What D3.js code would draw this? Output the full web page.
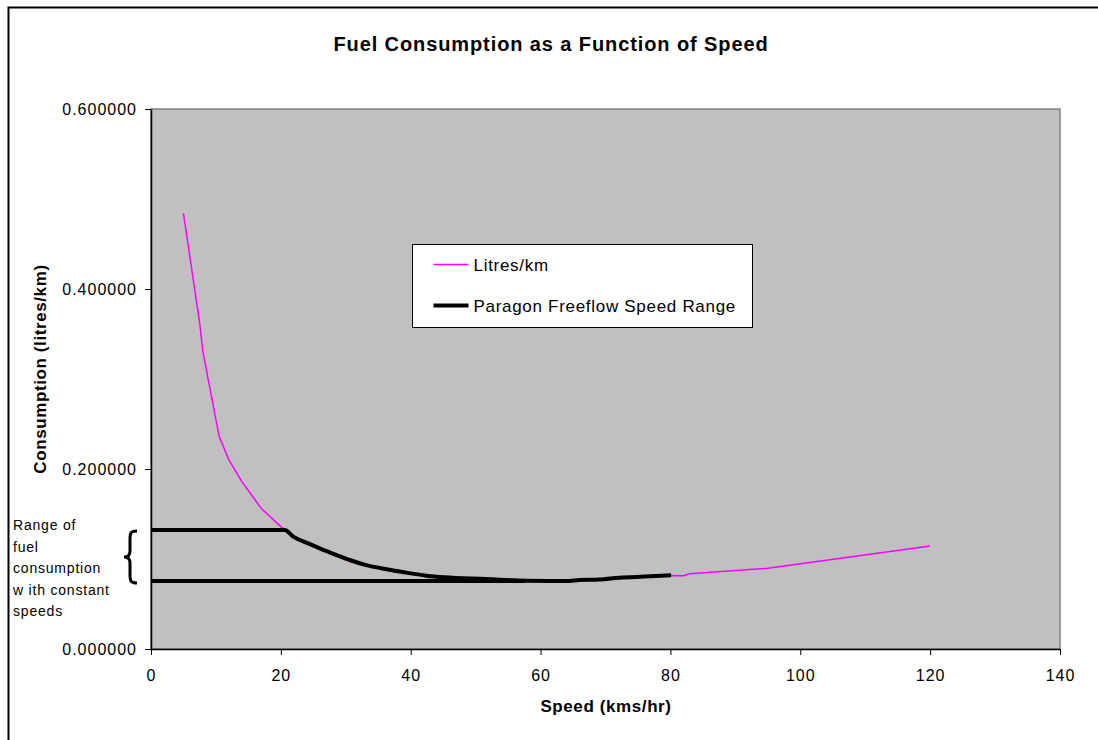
<!DOCTYPE html>
<html lang="en">
  <head>
    <meta charset="UTF-8" />
    <title>Fuel Consumption as a Function of Speed</title>
    <style>
      body {
        margin: 0;
        background: #fff;
        font-family: Arial, "Liberation Sans", sans-serif;
        color: #000;
      }
      .tick text {
        font-size: 16px;
        letter-spacing: 1px;
      }
      .axis-title {
        font-size: 17px;
        font-weight: bold;
        letter-spacing: 0.6px;
      }
      .note text {
        font-size: 14px;
        letter-spacing: 0.8px;
      }
    </style>
  </head>
  <body>
    <svg width="1098" height="740"></svg>
  </body>
  <script src="https://cdn.jsdelivr.net/npm/d3@7"></script>
  <script>
    // Litres/km curve
    let speeds = [5, 7.5, 8, 10.5, 12, 14, 17, 20, 22, 26, 30, 36, 42, 45, 50, 55, 60, 64, 66, 72, 80, 82, 83, 95, 120];
    let litres = [0.484, 0.362, 0.33, 0.236, 0.21, 0.186, 0.156, 0.136, 0.1248, 0.1119, 0.0989, 0.0886, 0.0815, 0.0796, 0.0785, 0.0768, 0.0757, 0.0756, 0.0767, 0.0793, 0.0817, 0.0815, 0.0837, 0.0896, 0.1144];

    // Paragon freeflow speed range (thick black)
    let paragonSpeeds = [0, 20.6, 21.9, 24, 26, 28, 30.6, 33, 36.3, 39, 42.4, 45.2, 51.6, 57.8, 63.9, 66, 69, 72.2, 76, 80.1];
    let paragonValues = [0.1322, 0.1322, 0.1248, 0.118, 0.1119, 0.106, 0.0989, 0.0935, 0.0886, 0.0852, 0.0815, 0.0796, 0.0778, 0.0759, 0.0756, 0.0767, 0.0772, 0.0793, 0.0805, 0.0819];

    // lower bound of the range
    let floorSpeeds = [0, 57.5];
    let floorValues = [0.0756, 0.0756];

    let xTicks = [0, 20, 40, 60, 80, 100, 120, 140];
    let yTicks = [0, 0.2, 0.4, 0.6];

    let svg = d3.select("svg");

    // outer chart frame
    svg.append("rect")
      .attr("x", 8.5).attr("y", 7.5)
      .attr("width", 1100).attr("height", 760)
      .attr("fill", "#fff")
      .attr("stroke", "#000")
      .attr("stroke-width", 2);

    let x = d3.scaleLinear().domain([0, 140]).range([151, 1060]);
    let y = d3.scaleLinear().domain([0, 0.6]).range([649, 109]);

    // plot area
    svg.append("rect")
      .attr("x", x(0)).attr("y", y(0.6))
      .attr("width", x(140) - x(0)).attr("height", y(0) - y(0.6))
      .attr("fill", "#c0c0c0")
      .attr("stroke", "#808080")
      .attr("stroke-width", 1.5);

    svg.append("text")
      .attr("x", 551).attr("y", 51)
      .attr("text-anchor", "middle")
      .attr("font-size", 20)
      .attr("font-weight", "bold")
      .attr("letter-spacing", 0.9)
      .text("Fuel Consumption as a Function of Speed");

    svg.append("g")
      .attr("transform", `translate(0,${y(0)})`)
      .call(d3.axisBottom(x).tickValues(xTicks).tickSize(6).tickPadding(15).tickSizeOuter(0))
      .call((g) => g.select(".domain").attr("stroke", "#000").attr("stroke-width", 1.5));

    svg.append("g")
      .attr("transform", `translate(${x(0)},0)`)
      .call(d3.axisLeft(y).tickValues(yTicks).tickFormat(d3.format(".6f")).tickSize(6).tickPadding(8).tickSizeOuter(0))
      .call((g) => g.select(".domain").attr("stroke", "#000").attr("stroke-width", 1.5));

    svg.selectAll(".tick text").attr("fill", "#000");

    svg.append("text")
      .attr("class", "axis-title")
      .attr("x", 606).attr("y", 712)
      .attr("text-anchor", "middle")
      .attr("letter-spacing", 1.2)
      .text("Speed (kms/hr)");

    svg.append("text")
      .attr("class", "axis-title")
      .attr("transform", "translate(46,369) rotate(-90)")
      .attr("text-anchor", "middle")
      .attr("font-size", 16)
      .text("Consumption (litres/km)");

    let line = d3.line().x((d) => x(d[0])).y((d) => y(d[1]));

    svg.append("path")
      .datum(d3.zip(speeds, litres))
      .attr("fill", "none")
      .attr("stroke", "#ff00ff")
      .attr("stroke-width", 1.5)
      .attr("d", line);

    svg.append("path")
      .datum(d3.zip(paragonSpeeds, paragonValues))
      .attr("fill", "none")
      .attr("stroke", "#000")
      .attr("stroke-width", 4)
      .attr("stroke-linejoin", "round")
      .attr("d", line.curve(d3.curveMonotoneX));

    svg.append("path")
      .datum(d3.zip(floorSpeeds, floorValues))
      .attr("fill", "none")
      .attr("stroke", "#000")
      .attr("stroke-width", 4)
      .attr("d", line.curve(d3.curveLinear));

    // brace and note on the left
    let bTop = y(paragonValues[0]) + 1, bBot = y(floorValues[0]) + 2, bMid = (bTop + bBot) / 2;
    svg.append("path")
      .attr("fill", "none")
      .attr("stroke", "#000")
      .attr("stroke-width", 3)
      .attr("d", `M137,${bTop} C130,${bTop} 130,${bTop + 3} 130,${bTop + 8} L130,${bMid - 6} C130,${bMid - 1} 127,${bMid} 124,${bMid}
        C127,${bMid} 130,${bMid + 1} 130,${bMid + 6} L130,${bBot - 8} C130,${bBot - 3} 130,${bBot} 137,${bBot}`);

    let noteLines = ["Range of", "fuel", "consumption", "w ith constant", "speeds"];
    svg.append("g")
      .attr("class", "note")
      .selectAll("text")
      .data(noteLines)
      .join("text")
      .attr("x", 13)
      .attr("y", (_, i) => 530 + i * 21.5)
      .text((d) => d);

    // legend
    let legend = svg.append("g").attr("transform", "translate(412.5,244.5)");
    legend.append("rect")
      .attr("width", 340).attr("height", 83)
      .attr("fill", "#fff")
      .attr("stroke", "#000");
    let legendItems = [
      { name: "Litres/km", color: "#ff00ff", width: 1.5 },
      { name: "Paragon Freeflow Speed Range", color: "#000", width: 4 },
    ];
    let li = legend.selectAll("g").data(legendItems).join("g")
      .attr("transform", (_, i) => `translate(0,${20 + i * 41})`);
    li.append("line")
      .attr("x1", 21).attr("x2", 56)
      .attr("stroke", (d) => d.color)
      .attr("stroke-width", (d) => d.width);
    li.append("text")
      .attr("x", 61).attr("y", 6)
      .attr("font-size", 17)
      .attr("letter-spacing", 0.7)
      .text((d) => d.name);
  </script>
</html>
